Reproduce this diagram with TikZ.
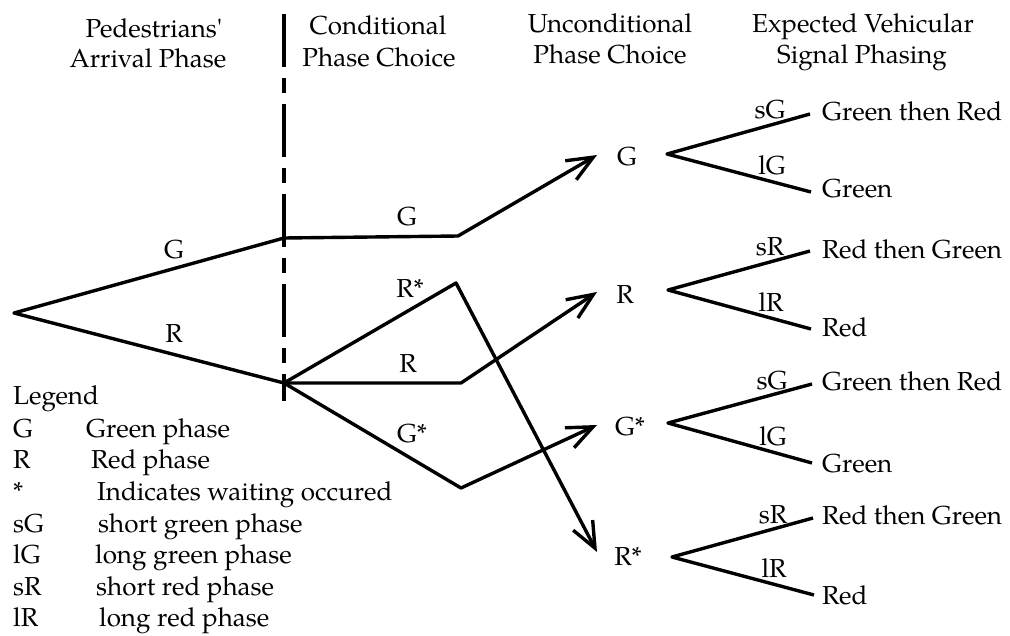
\documentclass[tikz,border=0pt]{standalone}
\usepackage{fontspec}
\setmainfont{TeX Gyre Pagella}
\usetikzlibrary{arrows.meta}
\newcommand{\dfs}{\fontsize{26}{30}\selectfont}
\begin{document}
\begin{tikzpicture}[x=1pt,y=-1pt,
  every node/.style={font=\dfs, inner sep=0pt},
  txt/.style={anchor=base},
  ltxt/.style={anchor=base west},
  branch/.style={line width=3.4pt, line join=round},
  arr/.style={branch, -{Straight Barb[length=26pt,width=22pt]}},
  divider/.style={line width=3.4pt, dash pattern=on 53pt off 11pt on 15pt off 11pt}]
\useasboundingbox (0,0) rectangle (1010,635);
% headers
\node[txt] (h1a) at (154,37) {Pedestrians\textquotesingle};
\node[txt] (h1b) at (148,67) {Arrival Phase};
\node[txt] (h2a) at (378,34) {Conditional};
\node[txt] (h2b) at (379,66) {Phase Choice};
\node[txt] (h3a) at (610,32) {Unconditional};
\node[txt] (h3b) at (610,63) {Phase Choice};
\node[txt] (h4a) at (863,32) {Expected Vehicular};
\node[txt] (h4b) at (862,63) {Signal Phasing};
% divider
\coordinate (dtop) at (284,14);
\coordinate (dbot) at (284,401);
\draw[divider] (dtop) -- (dbot);
% tree points
\coordinate (root) at (14,313);
\coordinate (cG) at (284,238);
\coordinate (cR) at (284,383);
\coordinate (bG) at (458,236);
\coordinate (bRs) at (456,283);
\coordinate (bR) at (461,383);
\coordinate (bGs) at (461,488);
\coordinate (tG) at (597,155);
\coordinate (tR) at (597,292);
\coordinate (tGs) at (597,425);
\coordinate (tRs) at (597,552);
\draw[branch] (cG) -- (root) -- (cR);
\draw[arr] (cG) -- (bG) -- (tG);
\draw[arr] (cR) -- (bRs) -- (tRs);
\draw[arr] (cR) -- (bR) -- (tR);
\draw[arr] (cR) -- (bGs) -- (tGs);
% branch labels
\node[txt] (lbG) at (174,258) {G};
\node[txt] (lbR) at (174,342) {R};
\node[txt] (lcG) at (407,225) {G};
\node[txt] (lcRs) at (410,297) {R*};
\node[txt] (lcR) at (408,372) {R};
\node[txt] (lcGs) at (412,442) {G*};
% unconditional nodes
\node[txt] (uG) at (627,165) {G};
\node[txt] (uR) at (625,303) {R};
\node[txt] (uGs) at (630,435) {G*};
\node[txt] (uRs) at (628,565) {R*};
% forks
\coordinate (fG) at (667,154);
\coordinate (fR) at (668,290);
\coordinate (fGs) at (668,423);
\coordinate (fRs) at (672,557);
\coordinate (eG1) at (810,114);
\coordinate (eG2) at (811,192);
\coordinate (eR1) at (810,251);
\coordinate (eR2) at (811,329);
\coordinate (eGs1) at (812,384);
\coordinate (eGs2) at (812,463);
\coordinate (eRs1) at (813,518);
\coordinate (eRs2) at (814,595);
\draw[branch] (eG1) -- (fG) -- (eG2);
\draw[branch] (eR1) -- (fR) -- (eR2);
\draw[branch] (eGs1) -- (fGs) -- (eGs2);
\draw[branch] (eRs1) -- (fRs) -- (eRs2);
% fork labels
\node[txt] (sG1) at (770,118) {sG};
\node[txt] (lG1) at (772,174) {lG};
\node[txt] (sR1) at (770,255) {sR};
\node[txt] (lR1) at (771,311) {lR};
\node[txt] (sG2) at (772,389) {sG};
\node[txt] (lG2) at (773,445) {lG};
\node[txt] (sR2) at (773,523) {sR};
\node[txt] (lR2) at (774,577) {lR};
% outcomes
\node[ltxt] (o1) at (822,120) {Green then Red};
\node[ltxt] (o2) at (822,197) {Green};
\node[ltxt] (o3) at (822,258) {Red then Green};
\node[ltxt] (o4) at (822,336) {Red};
\node[ltxt] (o5) at (822,390) {Green then Red};
\node[ltxt] (o6) at (822,472) {Green};
\node[ltxt] (o7) at (822,524) {Red then Green};
\node[ltxt] (o8) at (822,604) {Red};
% legend
\node[ltxt] (leg) at (13,404) {Legend};
\node[ltxt] (k1) at (13,437) {G};
\node[ltxt] (k2) at (13,468) {R};
\node[ltxt] (k3) at (13,500) {*};
\node[ltxt] (k4) at (13,532) {sG};
\node[ltxt] (k5) at (13,563) {lG};
\node[ltxt] (k6) at (13,595) {sR};
\node[ltxt] (k7) at (13,626) {lR};
\node[ltxt] (d1) at (86,437) {Green phase};
\node[ltxt] (d2) at (91,468) {Red phase};
\node[ltxt] (d3) at (97,500) {Indicates waiting occured};
\node[ltxt] (d4) at (98,532) {short green phase};
\node[ltxt] (d5) at (95,563) {long green phase};
\node[ltxt] (d6) at (96,595) {short red phase};
\node[ltxt] (d7) at (99,626) {long red phase};
\end{tikzpicture}
\end{document}
